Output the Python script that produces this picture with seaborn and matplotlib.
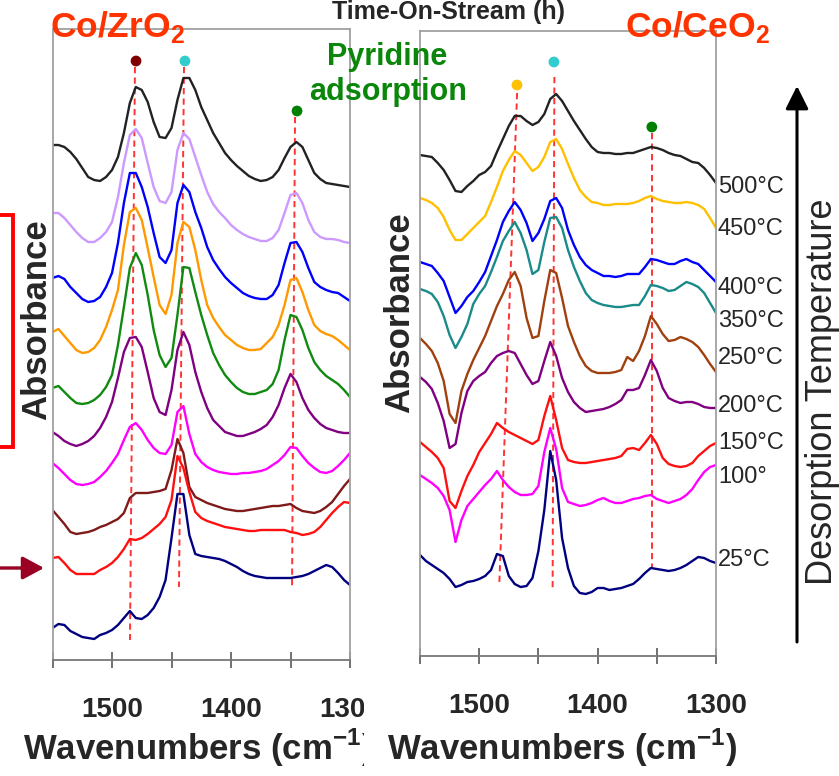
import matplotlib
matplotlib.use("Agg")
import matplotlib.pyplot as plt
from matplotlib.lines import Line2D
from matplotlib.patches import FancyArrowPatch
from matplotlib.transforms import Bbox
import pandas as pd
import seaborn as sns

# ---------------------------------------------------------------- data
# Co/ZrO2 spectra, stacked, absorbance in arbitrary units (1550 -> 1300 cm-1, 5 cm-1 steps)
WN_ZR = list(range(1550, 1299, -5))
zr_500 = [515, 515, 513, 508, 501, 492, 483, 480, 479, 483, 490, 503, 527, 557, 573, 570, 558,
          538, 523, 522, 532, 560, 582, 582, 570, 553, 540, 527, 517, 507, 500, 494, 489, 484,
          481, 479, 480, 483, 490, 502, 513, 518, 513, 500, 487, 481, 477, 476, 475, 474, 473]
zr_450 = [447, 447, 442, 435, 428, 422, 418, 418, 422, 428, 438, 463, 497, 525, 531, 522, 497,
          473, 459, 457, 468, 510, 527, 521, 503, 485, 468, 456, 448, 442, 435, 430, 426, 423,
          421, 419, 419, 422, 430, 447, 465, 467, 457, 440, 428, 423, 421, 421, 420, 418, 417]
zr_400 = [382, 384, 381, 373, 367, 361, 358, 359, 363, 373, 387, 417, 457, 487, 487, 473, 453,
          427, 403, 397, 410, 457, 475, 468, 448, 432, 413, 400, 391, 383, 377, 372, 367, 364,
          362, 361, 361, 365, 375, 397, 417, 418, 408, 392, 378, 373, 370, 368, 367, 363, 359]
zr_350 = [328, 331, 324, 317, 310, 307, 308, 312, 320, 333, 350, 370, 415, 448, 452, 440, 412,
          383, 355, 346, 365, 417, 438, 433, 410, 380, 355, 342, 333, 325, 320, 315, 312, 310,
          310, 311, 317, 323, 335, 355, 380, 382, 368, 350, 335, 329, 326, 324, 320, 315, 310]
zr_300 = [272, 274, 268, 262, 257, 256, 257, 260, 265, 273, 285, 315, 353, 392, 407, 395, 365,
          330, 305, 293, 302, 345, 393, 392, 368, 345, 325, 307, 295, 285, 278, 272, 268, 266,
          266, 268, 270, 276, 290, 320, 345, 343, 330, 312, 298, 290, 284, 280, 276, 270, 263]
zr_250 = [228, 224, 219, 216, 214, 216, 219, 224, 232, 243, 258, 282, 308, 322, 323, 313, 288,
          262, 248, 245, 270, 310, 328, 315, 288, 268, 252, 240, 234, 228, 226, 224, 224, 226,
          228, 231, 235, 243, 255, 272, 286, 278, 262, 250, 242, 236, 232, 230, 228, 227, 227]
zr_200 = [197, 192, 186, 180, 176, 175, 176, 178, 183, 189, 197, 206, 220, 233, 237, 230, 220,
          212, 207, 206, 215, 248, 254, 226, 206, 198, 193, 190, 188, 187, 186, 186, 187, 187,
          188, 189, 191, 195, 199, 205, 213, 212, 204, 197, 192, 188, 187, 189, 194, 200, 207]
zr_150 = [150, 143, 136, 128, 126, 127, 128, 130, 133, 135, 138, 141, 147, 162, 167, 167, 167,
          168, 169, 171, 190, 221, 207, 173, 163, 160, 157, 155, 153, 151, 150, 149, 149, 150,
          151, 152, 153, 154, 154, 155, 156, 152, 149, 148, 147, 149, 153, 158, 166, 174, 181]
zr_100 = [102, 103, 97, 90, 86, 86, 86, 86, 90, 93, 97, 103, 111, 121, 120, 122, 126,
          131, 136, 143, 160, 204, 192, 168, 148, 142, 139, 137, 135, 133, 132, 131, 130, 129,
          129, 130, 130, 130, 130, 130, 128, 127, 125, 126, 128, 133, 140, 147, 153, 158, 157]
zr_25 = [32, 36, 35, 29, 26, 23, 22, 21, 25, 27, 30, 35, 42, 49, 42, 41, 45,
         52, 63, 80, 122, 166, 166, 125, 106, 104, 103, 102, 101, 99, 96, 93, 89, 86,
         84, 83, 82, 82, 82, 82, 82, 83, 84, 86, 89, 92, 95, 93, 87, 80, 75]
ZR_TEMPS = ["500", "450", "400", "350", "300", "250", "200", "150", "100", "25"]
ZR_COLORS = ["#222222", "#CC99FF", "#0000FF", "#FF9900", "#108A10",
             "#800080", "#FF00FF", "#7F1A1A", "#FF1010", "#000080"]

# Co/CeO2 spectra
WN_CE = list(range(1550, 1299, -5))
ce_500 = [501, 500, 499, 493, 486, 476, 465, 464, 470, 475, 481, 484, 490, 504, 517, 530, 540,
          540, 535, 531, 534, 542, 557, 562, 555, 545, 535, 526, 517, 509, 504, 503, 503, 502,
          502, 503, 503, 505, 507, 509, 508, 506, 503, 501, 500, 497, 494, 493, 488, 481, 473]
ce_450 = [458, 456, 453, 448, 439, 426, 416, 416, 422, 428, 434, 440, 454, 469, 485, 496, 505,
          501, 493, 485, 489, 499, 514, 517, 507, 492, 478, 466, 459, 454, 453, 451, 451, 452,
          452, 452, 453, 455, 458, 460, 457, 455, 454, 453, 453, 454, 453, 451, 447, 438, 428]
ce_400 = [394, 392, 390, 383, 375, 359, 343, 350, 359, 365, 374, 384, 400, 416, 434, 445, 454,
          446, 433, 415, 423, 437, 455, 458, 448, 426, 411, 399, 391, 386, 383, 380, 380, 379,
          380, 382, 382, 382, 389, 397, 396, 394, 392, 392, 395, 397, 394, 392, 386, 380, 374]
ce_350 = [367, 365, 362, 354, 340, 321, 308, 319, 332, 352, 362, 370, 384, 399, 415, 425, 434,
          423, 406, 382, 386, 414, 438, 439, 428, 406, 389, 375, 363, 356, 353, 351, 350, 349,
          349, 350, 351, 351, 360, 371, 370, 368, 365, 366, 370, 374, 372, 369, 363, 353, 343]
ce_250 = [318, 312, 305, 293, 275, 242, 233, 265, 282, 296, 308, 320, 335, 350, 362, 376, 384,
          370, 338, 318, 320, 355, 386, 383, 358, 330, 314, 300, 290, 285, 283, 283, 283, 284,
          286, 299, 295, 305, 320, 340, 332, 322, 315, 316, 319, 317, 314, 309, 301, 292, 284]
ce_200 = [279, 274, 267, 253, 235, 208, 212, 243, 265, 275, 280, 284, 293, 300, 303, 305, 303,
          292, 281, 272, 275, 295, 314, 300, 278, 264, 254, 248, 244, 245, 246, 247, 249, 252,
          256, 266, 266, 268, 281, 296, 285, 268, 258, 255, 253, 254, 254, 252, 249, 248, 248]
ce_150 = [214, 209, 204, 198, 188, 155, 148, 165, 180, 191, 204, 213, 222, 233, 228, 224, 221,
          218, 215, 212, 216, 240, 260, 236, 208, 196, 194, 193, 193, 194, 195, 196, 197, 198,
          200, 207, 208, 206, 213, 221, 212, 198, 192, 190, 189, 190, 193, 200, 205, 210, 213]
ce_100 = [181, 177, 173, 168, 160, 146, 114, 136, 150, 157, 164, 171, 177, 185, 176, 169, 164,
          161, 161, 162, 170, 204, 228, 207, 168, 154, 152, 150, 151, 153, 156, 158, 155, 153,
          153, 155, 157, 158, 160, 161, 157, 155, 153, 155, 157, 161, 167, 176, 184, 189, 191]
ce_25 = [101, 95, 91, 87, 83, 77, 69, 71, 74, 75, 77, 80, 86, 102, 100, 80, 72,
         69, 70, 78, 105, 146, 205, 176, 118, 88, 70, 63, 62, 64, 68, 68, 66, 67,
         68, 70, 72, 77, 83, 88, 87, 86, 85, 86, 88, 91, 95, 99, 98, 95, 93]
CE_TEMPS = ["500", "450", "400", "350", "250", "200", "150", "100", "25"]
CE_LABELS = ["500°C", "450°C", "400°C", "350°C", "250°C", "200°C", "150°C", "100°", "25°C"]
CE_LABEL_Y = [187, 229, 288, 321, 358, 406, 443, 477, 560]   # label rows, px from top
CE_COLORS = ["#222222", "#FFC000", "#0000FF", "#1A8A8A", "#A0400F",
             "#800080", "#FF1010", "#FF00FF", "#000080"]

# band guide lines (wavenumber / absorbance at both ends) and band markers
ZR_GUIDE_W = [(1480.7, 1484.9), (1439.5, 1443.7), (1346.2, 1348.7)]
ZR_GUIDE_Y = [(593, 20), (593, 73), (543, 73)]
ZR_DOT_W = [1479.8, 1438.7, 1344.5]
ZR_DOT_Y = [599, 599, 549]
ZR_DOT_C = ["#7F0000", "#33CCCC", "#008000"]
CE_GUIDE_W = [(1468.0, 1483.0), (1436.5, 1438.0), (1354.0, 1354.0)]
CE_GUIDE_Y = [(563, 73), (579, 65), (523, 89)]
CE_DOT_W = [1468.1, 1436.9, 1354.2]
CE_DOT_Y = [571, 594, 529]
CE_DOT_C = ["#FFC000", "#33CCCC", "#008000"]

TICKS = [1550, 1500, 1450, 1400, 1350, 1300]
TICK_LABELS = ["", "1500", "", "1400", "", "1300"]

# ---------------------------------------------------------------- style
sns.set_style("white")
plt.rcParams["font.family"] = ["Liberation Sans", "DejaVu Sans"]
plt.rcParams["mathtext.fontset"] = "custom"
plt.rcParams["mathtext.rm"] = "Liberation Sans"
plt.rcParams["mathtext.bf"] = "Liberation Sans:bold"

W, H = 839, 776
fig = plt.figure(figsize=(W / 100, H / 100), dpi=100)


def fx(x):
    return x / W


def fy(y):
    return 1 - y / H


ax1 = fig.add_axes([fx(52.5), fy(660), 297.5 / W, 631 / H])
ax2 = fig.add_axes([fx(420), fy(656), 296 / W, 625 / H])


def long_frame(wn, temps, curves):
    parts = [pd.DataFrame({"wavenumber": wn, "absorbance": vals, "temp": t})
             for t, vals in zip(temps, curves)]
    return pd.concat(parts, ignore_index=True)


df_zr = long_frame(WN_ZR, ZR_TEMPS, [zr_500, zr_450, zr_400, zr_350, zr_300,
                                     zr_250, zr_200, zr_150, zr_100, zr_25])
df_ce = long_frame(WN_CE, CE_TEMPS, [ce_500, ce_450, ce_400, ce_350, ce_250,
                                     ce_200, ce_150, ce_100, ce_25])

panels = [
    (ax1, df_zr, ZR_TEMPS, ZR_COLORS, ZR_GUIDE_W, ZR_GUIDE_Y, ZR_DOT_W, ZR_DOT_Y, ZR_DOT_C, 631),
    (ax2, df_ce, CE_TEMPS, CE_COLORS, CE_GUIDE_W, CE_GUIDE_Y, CE_DOT_W, CE_DOT_Y, CE_DOT_C, 625),
]

for ax, df, temps, colors, gw, gy, dw, dy, dc, top in panels:
    sns.lineplot(data=df, x="wavenumber", y="absorbance", hue="temp",
                 hue_order=temps, palette=dict(zip(temps, colors)),
                 estimator=None, sort=False, legend=False, lw=1.7, ax=ax)
    for line in ax.get_lines():
        line.set_solid_joinstyle("round")
    for (w0, w1), (y0, y1) in zip(gw, gy):
        ax.plot([w0, w1], [y0, y1], color="#FF3333", lw=1.4,
                ls=(0, (3.2, 2.2)), zorder=1)
    sns.scatterplot(x=dw, y=dy, hue=[str(i) for i in range(len(dc))],
                    palette=dc, s=60, edgecolor="none", legend=False, ax=ax, zorder=5)
    ax.set_xlim(1550, 1300)
    ax.set_ylim(0, top)
    ax.set_xticks(TICKS)
    ax.set_xticklabels(TICK_LABELS, fontsize=20, fontweight="bold")
    ax.set_yticks([])
    ax.set_xlabel("")
    ax.set_ylabel("")
    ax.tick_params(axis="x", direction="inout", length=11, width=1.3,
                   color="#666666", pad=21, bottom=True)
    for sp in ax.spines.values():
        sp.set_color("#A0A0A0")
        sp.set_linewidth(1.3)
    ax.spines["bottom"].set_color("#777777")

# text of the left panel stops at its right border
trim = Bbox.from_extents(0, 0, 364, H)
for lab in ax1.get_xticklabels():
    lab.set_clip_box(trim)
    lab.set_clip_on(True)

# ---------------------------------------------------------------- labels
xl1 = fig.text(fx(23), fy(760), r"Wavenumbers (cm$^{\mathbf{-1}}$)", fontsize=25,
               fontweight="bold", ha="left", va="baseline")
xl1.set_clip_box(trim)
xl1.set_clip_on(True)
fig.text(fx(562), fy(760), r"Wavenumbers (cm$^{\mathbf{-1}}$)", fontsize=25,
         fontweight="bold", ha="center", va="baseline")

fig.text(fx(37), fy(320), "Absorbance", fontsize=25, fontweight="bold",
         rotation=90, ha="center", va="center")
fig.text(fx(400), fy(313), "Absorbance", fontsize=25, fontweight="bold",
         rotation=90, ha="center", va="center")

fig.text(fx(50), fy(37), r"Co/ZrO$_{\mathbf{2}}$", fontsize=25.5, fontweight="bold",
         color="#FF3300", ha="left", va="baseline", zorder=10)
fig.text(fx(625), fy(37), r"Co/CeO$_{\mathbf{2}}$", fontsize=25.5, fontweight="bold",
         color="#FF3300", ha="left", va="baseline", zorder=10)

fig.text(fx(448), fy(19), "Time-On-Stream (h)", fontsize=18, fontweight="bold",
         ha="center", va="baseline")
fig.text(fx(387), fy(65), "Pyridine", fontsize=22, fontweight="bold",
         color="#0A860A", ha="center", va="baseline")
fig.text(fx(388), fy(100), "adsorption", fontsize=22, fontweight="bold",
         color="#0A860A", ha="center", va="baseline")

for lab, yy in zip(CE_LABELS, CE_LABEL_Y):
    fig.text(fx(718), fy(yy), lab, fontsize=17, ha="left", va="center")

fig.text(fx(822), fy(392), "Desorption Temperature", fontsize=26,
         rotation=90, ha="center", va="center")

# desorption-temperature arrow
fig.add_artist(FancyArrowPatch(
    (fx(797), fy(642)), (fx(797), fy(86)), transform=fig.transFigure,
    arrowstyle="-|>,head_length=0.7,head_width=0.35", mutation_scale=20,
    color="black", lw=2.2, shrinkA=0, shrinkB=0))

# bracket and pointer at the left edge
fig.add_artist(Line2D([fx(0), fx(13), fx(13), fx(0)],
                      [fy(215), fy(215), fy(447), fy(447)],
                      transform=fig.transFigure, color="#FF0000", lw=2.8,
                      solid_joinstyle="miter"))
fig.add_artist(FancyArrowPatch(
    (fx(0), fy(568)), (fx(44), fy(568)), transform=fig.transFigure,
    arrowstyle="-|>,head_length=0.65,head_width=0.35", mutation_scale=20,
    color="#990022", lw=2.4, shrinkA=0, shrinkB=0))

fig.savefig("out.png", dpi=100)
